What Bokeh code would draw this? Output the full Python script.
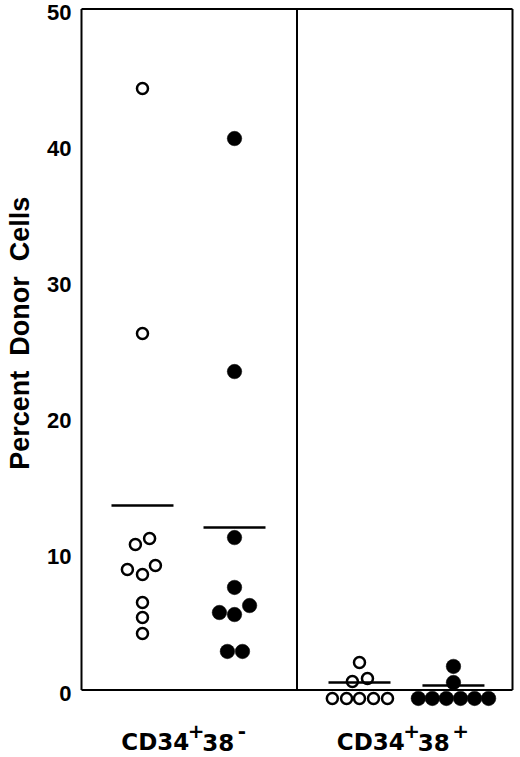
import numpy as np
from bokeh.plotting import figure
from bokeh.models import Range1d, ColumnDataSource
from bokeh.embed import file_html
from bokeh.resources import INLINE
from bokeh.core.properties import value

# ---------------- data ----------------
panel_names = ["CD34", "CD34"]
panel_sups = [("+", "-"), ("+", "+")]
group_centers = [0.283, 0.710, 1.290, 1.726]          # x position of each group
group_filled = [False, True, False, True]

open_neg_values = [44.17, 26.18, 11.12, 10.68, 9.14, 8.85, 8.48, 6.42, 5.32, 4.15]
open_neg_jitter = [0.0, 0.0, 0.033, -0.033, 0.060, -0.070, 0.0, 0.0, 0.0, 0.0]

filled_neg_values = [40.49, 23.38, 11.19, 7.53, 6.2, 5.69, 5.54, 2.83, 2.83]
filled_neg_jitter = [0.0, 0.0, 0.0, 0.0, 0.070, -0.070, 0.0, -0.033, 0.037]

open_pos_values = [-0.62, -0.62, -0.62, -0.62, -0.62, 0.62, 0.84, 2.02]
open_pos_jitter = [-0.126, -0.060, 0.0, 0.065, 0.130, -0.033, 0.037, 0.0]

filled_pos_values = [-0.62, -0.62, -0.62, -0.62, -0.62, -0.62, 0.55, 1.73]
filled_pos_jitter = [-0.163, -0.098, -0.033, 0.033, 0.098, 0.163, 0.0, 0.0]

group_means = [13.55, 11.93, 0.55, 0.33]
y_ticks = [0, 10, 20, 30, 40, 50]
y_title = "Percent\u00a0\u00a0Donor\u00a0\u00a0Cells"

# ---------------- figure geometry ----------------
W, H = 518, 757
X0_PX, Y0_PX = 81, 689.5        # pixel position of (x=0, y=0)
SX, SY = 215.5, 13.62           # pixels per data unit

p = figure(width=W, height=H, output_backend="svg", toolbar_location=None,
           x_range=Range1d(-X0_PX / SX, (W - X0_PX) / SX),
           y_range=Range1d(-(H - Y0_PX) / SY, Y0_PX / SY),
           x_axis_location=None, y_axis_location=None,
           min_border=0)
p.xgrid.visible = False
p.ygrid.visible = False
p.outline_line_color = None
p.background_fill_color = "white"
p.border_fill_color = "white"

def dx(px):
    return px / SX

def dy(px):
    return px / SY

# frame: left axis, top, right, divider, bottom
p.segment(x0=[0, 0, 2, 1, 0], y0=[0, 50, 0, 0, 0],
          x1=[0, 2, 2, 1, 2], y1=[50, 50, 50, 50, 0],
          line_color="black", line_width=2)

# y tick labels
p.text(x=[-dx(10)] * len(y_ticks), y=[t - dy(3) for t in y_ticks],
       text=[str(t) for t in y_ticks],
       text_align="right", text_baseline="middle",
       text_font=value("Liberation Sans"), text_font_style="bold",
       text_font_size="22px", text_color="black")

# y title
p.text(x=[-dx(62)], y=[26.2], text=[y_title], angle=np.pi / 2,
       text_align="center", text_baseline="middle",
       text_font=value("Liberation Sans"), text_font_style="bold",
       text_font_size="27px", text_color="black")

# points
all_vals = [open_neg_values, filled_neg_values, open_pos_values, filled_pos_values]
all_jit = [open_neg_jitter, filled_neg_jitter, open_pos_jitter, filled_pos_jitter]
for c, filled, vals, jit in zip(group_centers, group_filled, all_vals, all_jit):
    src = ColumnDataSource(dict(x=[c + j for j in jit], y=vals))
    if filled:
        p.scatter("x", "y", source=src, size=14.5, fill_color="black",
                  line_color="black", line_width=0.5)
    else:
        p.scatter("x", "y", source=src, size=11, fill_color="white",
                  line_color="black", line_width=2.5)

# mean lines
half = dx(31)
p.segment(x0=[c - half for c in group_centers], y0=group_means,
          x1=[c + half for c in group_centers], y1=group_means,
          line_color="black", line_width=2.5)

# category labels with superscripts
panel_centers = [0.5, 1.5]
for pc, name, (s1, s2) in zip(panel_centers, panel_names, panel_sups):
    # (text, font px, x offset px from panel centre, centre px below y=0)
    pieces = [
        (name, 23, -68, 52),
        (s1, 20, -1.5, 41),
        ("38", 23, 13, 52),
        (s2, 20, 47.5 if s2 == "+" else 48.5, 41 if s2 == "+" else 40.5),
    ]
    for txt, fs, ox, oy in pieces:
        p.text(x=[pc + dx(ox)], y=[-dy(oy)], text=[txt],
               text_align="left", text_baseline="middle",
               text_font=value("DejaVu Sans"), text_font_style="bold",
               text_font_size=f"{fs}px", text_color="black")

open("out.html", "w").write(file_html(p, INLINE))
